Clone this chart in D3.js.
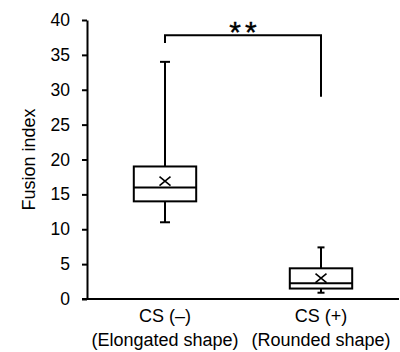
<!DOCTYPE html>
<html>
<head>
<meta charset="utf-8">
<script src="https://cdn.jsdelivr.net/npm/d3@7"></script>
<style>
  body { margin: 0; background: #fff; }
  svg { display: block; font-family: Arial, "Liberation Sans", sans-serif; }
</style>
</head>
<body>
<svg id="chart" width="400" height="352"></svg>
<script>
// ---- data
var categories = ["CS (–)", "CS (+)"];
var subLabels = ["(Elongated shape)", "(Rounded shape)"];
var whiskerLow = [11, 0.9];
var q1 = [14, 1.5];
var median = [16, 2.25];
var q3 = [19, 4.4];
var whiskerHigh = [34, 7.4];
var means = [16.9, 3.0];
var yTicks = [0, 5, 10, 15, 20, 25, 30, 35, 40];

// significance bracket (values in y units)
var sigLabel = "**";
var bracketTop = 37.8;
var bracketLeftEnd = 36.7;
var bracketRightEnd = 29;

var margin = {top: 20, right: 1, bottom: 53, left: 87};
var width = 400 - margin.left - margin.right;
var height = 352 - margin.top - margin.bottom;

var svg = d3.select('#chart')
  .append('g')
  .attr('transform', 'translate(' + margin.left + ',' + margin.top + ')');

var x = d3.scaleBand().domain(categories).range([0, width]);
var y = d3.scaleLinear().domain([0, 40]).range([height, 0]);

var cx = function(i) { return x(categories[i]) + x.bandwidth() / 2; };
var boxW = x.bandwidth() * 0.4;
var capHalf = [5, 3.5];

// ---- y axis
var yAxis = svg.append('g')
  .call(d3.axisLeft(y).tickValues(yTicks).tickSize(5).tickSizeOuter(0).tickPadding(12));
yAxis.select('.domain').attr('stroke', '#000').attr('stroke-width', 2);
yAxis.selectAll('.tick line').attr('stroke', '#000').attr('stroke-width', 2);
yAxis.selectAll('.tick text').attr('font-size', 17.5).attr('fill', '#000')
  .attr('font-family', 'Arial, "Liberation Sans", sans-serif');

// ---- x axis
var xAxis = svg.append('g')
  .attr('transform', 'translate(0,' + height + ')')
  .call(d3.axisBottom(x).tickSize(0).tickSizeOuter(0).tickFormat(''));
xAxis.select('.domain').attr('stroke', '#000').attr('stroke-width', 2)
  .attr('d', 'M-5,0H' + width);

xAxis.selectAll('.tick').each(function(d, i) {
  var t = d3.select(this).append('text')
    .attr('fill', '#000')
    .attr('font-size', 18)
    .attr('text-anchor', 'middle')
    .attr('font-family', 'Arial, "Liberation Sans", sans-serif');
  t.append('tspan').attr('x', 0).attr('y', 23).text(d);
  t.append('tspan').attr('x', 0).attr('y', 47).text(subLabels[i]);
});

// y label
svg.append('text')
  .attr('transform', 'translate(' + (35 - margin.left) + ',' + (height / 2) + ') rotate(-90)')
  .attr('text-anchor', 'middle')
  .attr('font-size', 18)
  .attr('fill', '#000')
  .text('Fusion index');

// ---- boxes
var g = svg.selectAll('.box')
  .data(categories)
  .enter().append('g')
  .attr('class', 'box')
  .attr('stroke', '#000')
  .attr('stroke-width', 2)
  .attr('fill', 'none');

// whiskers
g.append('line')
  .attr('x1', function(d, i) { return cx(i); })
  .attr('x2', function(d, i) { return cx(i); })
  .attr('y1', function(d, i) { return y(whiskerHigh[i]); })
  .attr('y2', function(d, i) { return y(q3[i]); });
g.append('line')
  .attr('x1', function(d, i) { return cx(i); })
  .attr('x2', function(d, i) { return cx(i); })
  .attr('y1', function(d, i) { return y(q1[i]); })
  .attr('y2', function(d, i) { return y(whiskerLow[i]); });
// caps
g.append('line')
  .attr('x1', function(d, i) { return cx(i) - capHalf[i]; })
  .attr('x2', function(d, i) { return cx(i) + capHalf[i]; })
  .attr('y1', function(d, i) { return y(whiskerHigh[i]); })
  .attr('y2', function(d, i) { return y(whiskerHigh[i]); });
g.append('line')
  .attr('x1', function(d, i) { return cx(i) - capHalf[i]; })
  .attr('x2', function(d, i) { return cx(i) + capHalf[i]; })
  .attr('y1', function(d, i) { return y(whiskerLow[i]); })
  .attr('y2', function(d, i) { return y(whiskerLow[i]); });
// box
g.append('rect')
  .attr('x', function(d, i) { return cx(i) - boxW / 2; })
  .attr('width', boxW)
  .attr('y', function(d, i) { return y(q3[i]); })
  .attr('height', function(d, i) { return y(q1[i]) - y(q3[i]); })
  .attr('fill', '#fff');
// median
g.append('line')
  .attr('x1', function(d, i) { return cx(i) - boxW / 2; })
  .attr('x2', function(d, i) { return cx(i) + boxW / 2; })
  .attr('y1', function(d, i) { return y(median[i]); })
  .attr('y2', function(d, i) { return y(median[i]); });
// mean marker (x)
g.append('path')
  .attr('stroke-width', 1.6)
  .attr('d', function(d, i) {
    var mx = cx(i), my = y(means[i]);
    return 'M' + (mx - 5.5) + ',' + (my - 4.5) + 'L' + (mx + 5.5) + ',' + (my + 4.5) +
           'M' + (mx - 5.5) + ',' + (my + 4.5) + 'L' + (mx + 5.5) + ',' + (my - 4.5);
  });

// ---- significance bracket
svg.append('path')
  .attr('fill', 'none')
  .attr('stroke', '#000')
  .attr('stroke-width', 2)
  .attr('d', 'M' + cx(0) + ',' + y(bracketLeftEnd) + 'V' + y(bracketTop) +
             'H' + cx(1) + 'V' + y(bracketRightEnd));

svg.append('text')
  .attr('x', (cx(0) + cx(1)) / 2 + 2)
  .attr('y', y(bracketTop) + 7)
  .attr('text-anchor', 'middle')
  .attr('font-size', 30)
  .attr('letter-spacing', 4)
  .attr('fill', '#000')
  .attr('stroke', '#000')
  .attr('stroke-width', 0.4)
  .text(sigLabel);
</script>
</body>
</html>
